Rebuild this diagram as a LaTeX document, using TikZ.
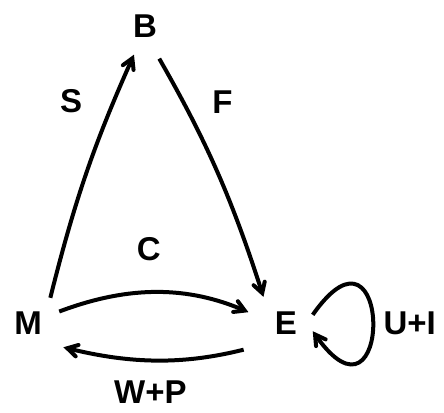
\documentclass[tikz,border=0pt]{standalone}
\usepackage{fontspec}
\setmainfont{Liberation Sans}
\usepackage{tikz}
\usetikzlibrary{arrows,positioning}

\begin{document}
\begin{tikzpicture}[->, >=angle 60, line width=4pt, x=1pt, y=-1pt]
\tikzstyle{every node}=[font=\fontsize{33}{38}\selectfont\bfseries,inner sep=0pt]
\tikzstyle{letter}=[inner sep=8pt]
\useasboundingbox (0,0) rectangle (444,412);
\node[letter]   (B) at (145,26)   {B};
\node[letter]   (M) at (28,323)   {M};
\node[letter]   (E) at (286,323)  {E};
\path
(M.45) edge[bend left=5, shorten <=4pt, shorten >=8pt]
        node[pos=0.8, left=30pt]{S}      (B.-110)
(B.-70) edge[bend left=6, shorten <=13pt, shorten >=5pt]
        node[pos=0.21, right=27pt]{F}    (E.north west)
(M.20) edge[bend left=22, shorten <=8pt, shorten >=18pt]
        node[pos=0.45, above=31pt]{C}    (E.170)
(E.south west) edge[bend left=14, shorten <=22pt, shorten >=12pt]
        node[pos=0.54, below=19pt]{W+P}  (M.south east)
(E.east) edge[out=55, in=-55, min distance=150pt, shorten <=10pt, shorten >=10pt]
        node[right=10pt]{U+I}            (E.east);
\end{tikzpicture}
\end{document}
